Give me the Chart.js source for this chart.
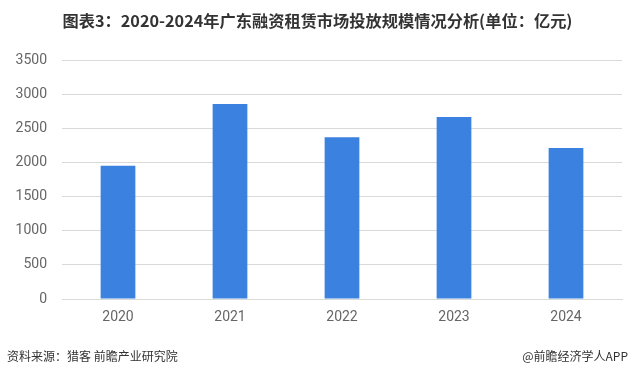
<!DOCTYPE html>
<html>
<head>
<meta charset="utf-8">
<script src="https://cdn.jsdelivr.net/npm/chart.js@4.4.0/dist/chart.umd.min.js"></script>
<style>
  html, body { margin: 0; padding: 0; background: #fff; }
  body { width: 635px; height: 382px; position: relative; overflow: hidden; }
  #wrap { position: absolute; left: 0; top: 0; width: 635px; height: 382px; }
  #title { position: absolute; left: 0; width: 635px; top: 9px; text-align: center;
    font-family: "Noto Sans CJK SC", "Liberation Sans", sans-serif; font-weight: bold;
    font-size: 16px; color: #333; line-height: 22px; white-space: nowrap; }
  #title span { display: inline-block; transform-origin: center; }
  .foot { position: absolute; top: 347px; font-family: "Noto Sans CJK SC", sans-serif;
    font-size: 12px; color: #333; line-height: 18px; white-space: nowrap; }
</style>
</head>
<body>
<div id="wrap"><canvas id="c" width="635" height="382"></canvas></div>
<div id="title"><span id="tspan">图表3：2020-2024年广东融资租赁市场投放规模情况分析(单位：亿元)</span></div>
<div class="foot" style="left:7px;">资料来源：猎客 前瞻产业研究院</div>
<div class="foot" style="right:7px;">@前瞻经济学人APP</div>
<script>
const categories = ["2020", "2021", "2022", "2023", "2024"];
const values = [1950, 2855, 2370, 2665, 2210];
const yTicks = [0, 500, 1000, 1500, 2000, 2500, 3000, 3500];

// fit title width
(function(){
  const s = document.getElementById('tspan');
  const w = s.getBoundingClientRect().width;
  if (w > 0) s.style.transform = 'scaleX(' + (510 / w) + ')';
})();

const tickFont = { family: 'Roboto, "Noto Sans", sans-serif', size: 14 };

new Chart(document.getElementById('c'), {
  type: 'bar',
  data: {
    labels: categories,
    datasets: [{
      data: values,
      backgroundColor: '#3b82e0',
      borderWidth: 0,
      barPercentage: 0.31,
      categoryPercentage: 1.0
    }]
  },
  options: {
    responsive: false,
    animation: false,
    devicePixelRatio: 1,
    layout: { padding: { left: 0, right: 13, top: 60, bottom: 43 } },
    plugins: { legend: { display: false }, tooltip: { enabled: false }, title: { display: false } },
    scales: {
      x: {
        grid: { display: false, drawTicks: false },
        border: { display: true, color: '#d9d9d9', width: 1 },
        ticks: { color: '#666', font: tickFont, padding: 10 },
        afterFit: s => { s.height = 40; }
      },
      y: {
        min: 0, max: 3500,
        afterBuildTicks: s => { s.ticks = yTicks.map(v => ({ value: v })); },
        grid: { color: '#d9d9d9', drawTicks: false, lineWidth: 1 },
        border: { display: false },
        ticks: { color: '#666', font: tickFont, padding: 15, callback: v => String(v) },
        afterFit: s => { s.width = 62; }
      }
    }
  }
});
</script>
</body>
</html>
